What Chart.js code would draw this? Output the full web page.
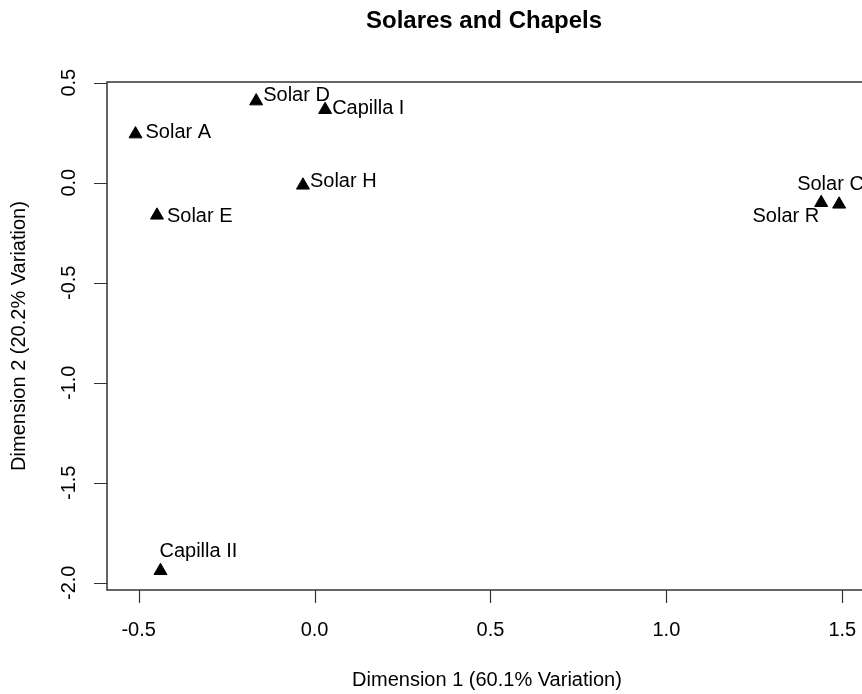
<!DOCTYPE html>
<html>
<head>
<meta charset="utf-8">
<title>Solares and Chapels</title>
<script src="https://cdn.jsdelivr.net/npm/chart.js@4/dist/chart.umd.min.js"></script>
<style>
  html, body { margin: 0; padding: 0; background: #fff; overflow: hidden; }
  #wrap { width: 862px; height: 694px; }
</style>
</head>
<body>
<div id="wrap"><canvas id="mds" width="862" height="694"></canvas></div>
<script>
// Site names and their coordinates on the first two MDS dimensions
const siteNames = ["Solar A", "Solar D", "Capilla I", "Solar H", "Solar E", "Capilla II", "Solar R", "Solar C"];
const dim1 = [-0.509, -0.166, 0.030, -0.033, -0.448, -0.438, 1.440, 1.491];
const dim2 = [0.243, 0.408, 0.365, -0.013, -0.163, -1.940, -0.100, -0.108];

// Axis ticks
const xTicks = [-0.5, 0.0, 0.5, 1.0, 1.5];
const yTicks = [0.5, 0.0, -0.5, -1.0, -1.5, -2.0];
const tickText = v => v.toFixed(1);

const titleText = "Solares and Chapels";
const xTitle = "Dimension 1 (60.1% Variation)";
const yTitle = "Dimension 2 (20.2% Variation)";

// Label placement next to each point: pixel offset and alignment
const labelPlacement = [
  { dx: 10, dy: -2, align: "left" },
  { dx: 7, dy: -6, align: "left" },
  { dx: 7, dy: -1, align: "left" },
  { dx: 7, dy: -4, align: "left" },
  { dx: 10, dy: 1, align: "left" },
  { dx: -1, dy: -19, align: "left" },
  { dx: -2, dy: 14, align: "right" },
  { dx: -42, dy: -20, align: "left" }
];

const FONT = "'Liberation Sans', Arial, Helvetica, sans-serif";
const INK = "#000";
const FRAME = "#333";

const points = dim1.map((x, i) => ({ x: x, y: dim2[i] }));

// Base-graphics style frame, ticks, titles and point labels
const framePlugin = {
  id: "frame",
  afterDatasetsDraw(chart) {
    const ctx = chart.ctx;
    const area = chart.chartArea;
    const xs = chart.scales.x;
    const ys = chart.scales.y;
    const meta = chart.getDatasetMeta(0);

    ctx.save();
    // point labels
    ctx.fillStyle = INK;
    ctx.font = "20px " + FONT;
    ctx.textBaseline = "middle";
    meta.data.forEach((el, i) => {
      const p = labelPlacement[i];
      ctx.textAlign = p.align;
      ctx.fillText(siteNames[i], el.x + p.dx, el.y + p.dy);
    });

    // box
    ctx.strokeStyle = FRAME;
    ctx.lineWidth = 1.5;
    ctx.beginPath();
    ctx.moveTo(area.right + 10, area.top);
    ctx.lineTo(area.left, area.top);
    ctx.lineTo(area.left, area.bottom);
    ctx.lineTo(area.right + 10, area.bottom);
    ctx.stroke();

    // ticks
    const tickLen = 13;
    ctx.lineWidth = 1.2;
    ctx.beginPath();
    xTicks.forEach(v => {
      const px = Math.round(xs.getPixelForValue(v)) + 0.5;
      ctx.moveTo(px, area.bottom);
      ctx.lineTo(px, area.bottom + tickLen);
    });
    yTicks.forEach(v => {
      const py = Math.round(ys.getPixelForValue(v)) + 0.5;
      ctx.moveTo(area.left, py);
      ctx.lineTo(area.left - tickLen, py);
    });
    ctx.stroke();

    ctx.fillStyle = INK;
    ctx.font = "20px " + FONT;
    ctx.textAlign = "center";
    ctx.textBaseline = "middle";
    xTicks.forEach(v => {
      ctx.fillText(tickText(v), xs.getPixelForValue(v), area.bottom + 40);
    });
    yTicks.forEach(v => {
      ctx.save();
      ctx.translate(area.left - 38, ys.getPixelForValue(v));
      ctx.rotate(-Math.PI / 2);
      ctx.fillText(tickText(v), 0, 0);
      ctx.restore();
    });

    // axis titles
    const plotCenterX = 487;
    ctx.fillText(xTitle, plotCenterX, area.bottom + 90);
    ctx.save();
    ctx.translate(19, (area.top + area.bottom) / 2);
    ctx.rotate(-Math.PI / 2);
    ctx.fillText(yTitle, 0, 0);
    ctx.restore();

    // main title
    ctx.font = "bold 24px " + FONT;
    ctx.fillText(titleText, 484, 21);
    ctx.restore();
  }
};

new Chart(document.getElementById("mds"), {
  type: "scatter",
  data: {
    datasets: [{
      data: points,
      pointStyle: "triangle",
      pointRadius: 7.5,
      pointHoverRadius: 7.5,
      backgroundColor: "#000",
      borderColor: "#000",
      borderWidth: 1
    }]
  },
  options: {
    responsive: false,
    animation: false,
    events: [],
    layout: { autoPadding: false, padding: { left: 107, top: 82, right: 0, bottom: 104 } },
    scales: {
      x: { type: "linear", display: false, min: -0.59, max: 1.556 },
      y: { type: "linear", display: false, min: -2.036, max: 0.5035 }
    },
    plugins: {
      legend: { display: false },
      title: { display: false },
      tooltip: { enabled: false }
    }
  },
  plugins: [framePlugin]
});
</script>
</body>
</html>
